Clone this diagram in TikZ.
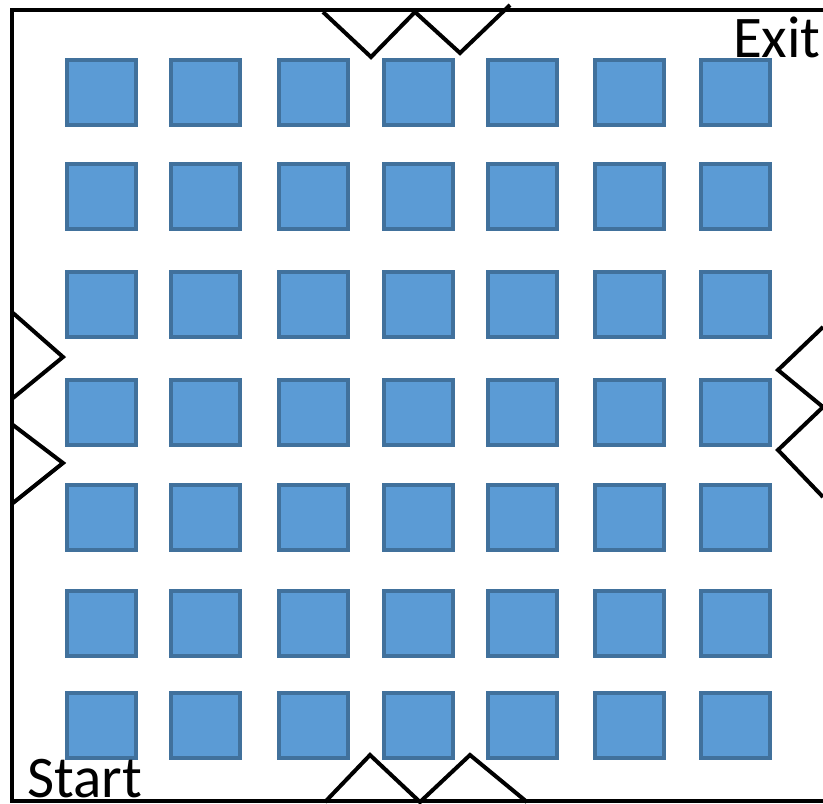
\documentclass[tikz,border=0pt]{standalone}
\usepackage{fontspec}
\setmainfont{Carlito}
\usetikzlibrary{positioning}
\definecolor{cellfill}{HTML}{5B9BD5}
\definecolor{celledge}{HTML}{41719C}

\begin{document}
\begin{tikzpicture}[x=1pt, y=-1pt,
   cell/.style={draw=celledge, fill=cellfill, line width=4pt, minimum width=69pt, minimum height=65pt, inner sep=0pt},
   wall/.style={line width=3.5pt, line join=miter},
   zig/.style={line width=4pt, line join=miter},
   lbl/.style={font=\fontsize{59}{59}\selectfont, inner sep=0pt}]
  \useasboundingbox (0,0) rectangle (823,804);
  % room outline (right side runs off the picture)
  \draw[wall] (823,10) -- (12,10) -- (12,801) -- (823,801);
  % 7x7 grid of tiles
  \foreach \cx [count=\c] in {101.5,205.5,313.5,418.5,522,629.5,735.5}
    \foreach \cy [count=\r] in {92.5,196.5,304,412,517,623,725}
      \node[cell] (t-\r-\c) at (\cx,\cy) {};
  % zigzags on the walls
  \draw[zig] (323,12) -- (371,57) -- (415,12) -- (460,53) -- (510,5);
  \draw[zig] (325,802) -- (370,755) -- (420,802) -- (470,755) -- (527,802);
  \draw[zig] (13,313) -- (63,357) -- (13,398);
  \draw[zig] (13,425) -- (63,463) -- (13,503);
  \draw[zig] (823,327) -- (778,370) -- (823,407) -- (778,450) -- (823,497);
  % labels
  \node[lbl, anchor=base west] (start) at (27,797) {Start};
  \node[lbl, anchor=base east] (exit) at (821,57) {Exit};
\end{tikzpicture}
\end{document}
